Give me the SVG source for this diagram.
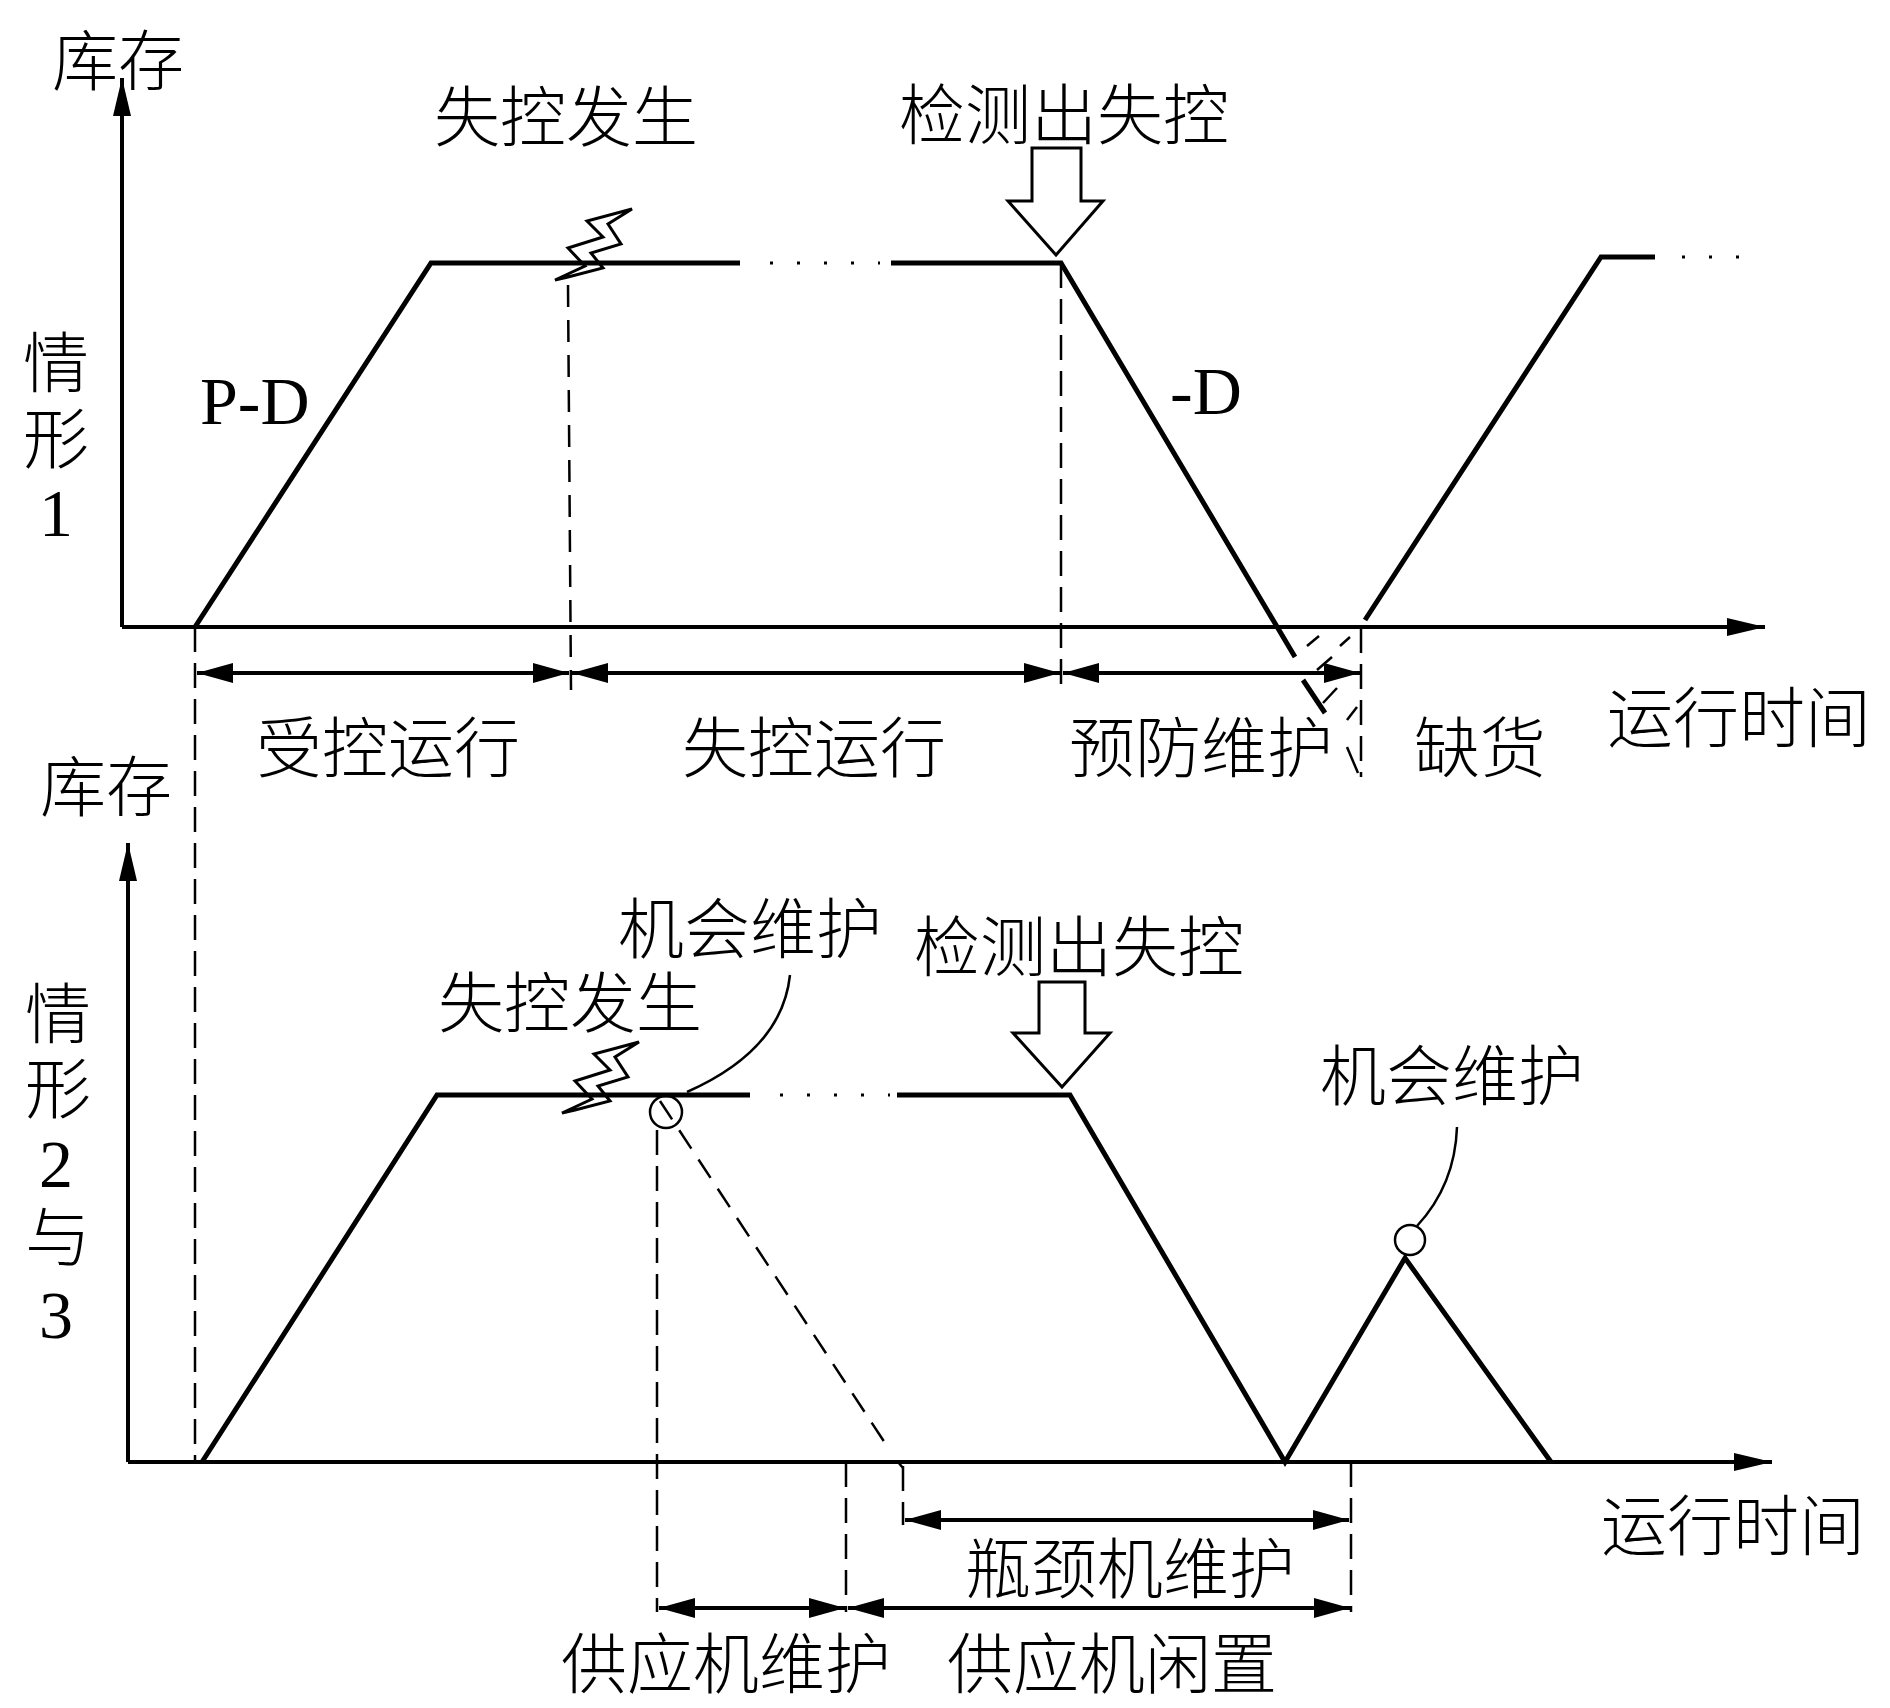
<svg xmlns="http://www.w3.org/2000/svg" width="1890" height="1708" viewBox="0 0 1890 1708">
<defs>
<style>
.t{font-family:"Liberation Serif","Noto Sans CJK SC",serif;font-size:66px;font-weight:300;fill:#000;text-anchor:middle}
.n{font-family:"Liberation Serif",serif;font-size:68px;fill:#000}
.ax{stroke:#000;stroke-width:4;fill:none}
.cv{stroke:#000;stroke-width:5;fill:none;stroke-linejoin:miter}
.dot{stroke:#000;stroke-width:3;fill:none;stroke-dasharray:3 24}
.ds{stroke:#000;stroke-width:2.5;fill:none;stroke-dasharray:25 11}
.dim{stroke:#000;stroke-width:4;fill:none}
.thin{stroke:#000;stroke-width:2.5;fill:none}
.bolt{stroke:#000;stroke-width:3;fill:none;stroke-linejoin:miter}
.hol{stroke:#000;stroke-width:3;fill:#fff}
</style>
<marker id="ah" viewBox="0 0 36 20" refX="36" refY="10" markerWidth="36" markerHeight="20" markerUnits="userSpaceOnUse" orient="auto-start-reverse"><path d="M0,0 L36,10 L0,20 Z" fill="#000"/></marker>
<marker id="axh" viewBox="0 0 38 18" refX="38" refY="9" markerWidth="38" markerHeight="18" markerUnits="userSpaceOnUse" orient="auto"><path d="M0,0 L38,9 L0,18 Z" fill="#000"/></marker>
<polygon id="boltshape" class="bolt" points="632,209 587,221 603,237 568,248 585,266 555,280 568,277 603,268 591,253 621,244 608,224"/>
</defs>

<g id="panel1">
  <g id="axes1">
    <line class="ax" x1="122" y1="627" x2="122" y2="78" marker-end="url(#axh)"/>
    <line class="ax" x1="122" y1="627" x2="1765" y2="627" marker-end="url(#axh)"/>
    <text class="t" x="118" y="85">库存</text>
    <text class="t" x="566" y="141">失控发生</text>
    <text class="t" x="1064" y="139">检测出失控</text>
    <text class="t" x="56" y="387">情</text>
    <text class="t" x="56" y="463">形</text>
    <text class="n" x="56" y="536" text-anchor="middle">1</text>
    <text class="t" x="1739" y="742">运行时间</text>
  </g>
  <g id="curve1">
    <polyline class="cv" points="195,627 431,263 740,263"/>
    <line class="dot" x1="770" y1="263" x2="880" y2="263"/>
    <polyline class="cv" points="891,263 1061,263 1295,657"/>
    <polyline class="cv" points="1365,620 1601,257 1655,257"/>
    <line class="dot" x1="1682" y1="257" x2="1745" y2="257"/>
    <text class="n" x="200" y="424">P-D</text>
    <text class="n" x="1170" y="414">-D</text>
  </g>
  <g id="event1">
    <use href="#boltshape"/>
    <path class="hol" d="M1032,148 H1081 V201 H1103 L1056,255 L1008,201 H1032 Z"/>
  </g>
  <g id="shortage1">
    <line class="thin" x1="1307" y1="646" x2="1319" y2="636"/>
    <line class="thin" x1="1340" y1="646" x2="1350" y2="637"/>
    <line class="thin" x1="1317" y1="670" x2="1332" y2="657"/>
    <line class="thin" x1="1323" y1="703" x2="1337" y2="688"/>
    <line class="thin" x1="1347" y1="720" x2="1357" y2="707"/>
    <line class="cv" x1="1303" y1="680" x2="1325" y2="713"/>
    <line class="thin" x1="1347" y1="747" x2="1358" y2="773"/>
  </g>
  <g id="dims1">
    <line class="ds" x1="195" y1="627" x2="195" y2="1462"/>
    <line class="ds" x1="568" y1="285" x2="571" y2="690" style="stroke-dasharray:22 13"/>
    <line class="ds" x1="1061" y1="263" x2="1061" y2="690"/>
    <line class="ds" x1="1361" y1="628" x2="1361" y2="777"/>
    <line class="dim" x1="197" y1="673" x2="569" y2="673" marker-start="url(#ah)" marker-end="url(#ah)"/>
    <line class="dim" x1="572" y1="673" x2="1060" y2="673" marker-start="url(#ah)" marker-end="url(#ah)"/>
    <line class="dim" x1="1063" y1="673" x2="1360" y2="673" marker-start="url(#ah)" marker-end="url(#ah)"/>
    <text class="t" x="388" y="772">受控运行</text>
    <text class="t" x="814" y="772">失控运行</text>
    <text class="t" x="1201" y="772">预防维护</text>
    <text class="t" x="1480" y="772">缺货</text>
  </g>
</g>

<g id="panel2">
  <g id="axes2">
    <line class="ax" x1="128" y1="1462" x2="128" y2="843" marker-end="url(#axh)"/>
    <line class="ax" x1="128" y1="1462" x2="1772" y2="1462" marker-end="url(#axh)"/>
    <text class="t" x="106" y="811">库存</text>
    <text class="t" x="58" y="1038">情</text>
    <text class="t" x="58" y="1113">形</text>
    <text class="n" x="56" y="1187" text-anchor="middle">2</text>
    <text class="t" x="58" y="1261">与</text>
    <text class="n" x="56" y="1338" text-anchor="middle">3</text>
    <text class="t" x="1733" y="1550">运行时间</text>
  </g>
  <g id="curve2">
    <polyline class="cv" points="202,1462 437,1095 750,1095"/>
    <line class="dot" x1="780" y1="1095" x2="890" y2="1095"/>
    <polyline class="cv" points="897,1095 1070,1095 1285,1462 1405,1258 1551,1462"/>
    <line class="ds" x1="660" y1="1101" x2="887" y2="1446" style="stroke-dasharray:22 13"/>
    <line class="thin" x1="898" y1="1462" x2="903" y2="1468"/>
  </g>
  <g id="event2">
    <use href="#boltshape" transform="translate(7,833)"/>
    <text class="t" x="570" y="1027">失控发生</text>
    <path class="hol" d="M1039,982 H1085 V1033 H1110 L1062,1087 L1013,1033 H1039 Z"/>
    <text class="t" x="1079" y="971">检测出失控</text>
  </g>
  <g id="opp1">
    <circle class="thin" cx="666" cy="1112" r="16" fill="none"/>
    <path class="thin" d="M687,1092 Q782,1050 790,975"/>
    <text class="t" x="750" y="953">机会维护</text>
  </g>
  <g id="opp2">
    <circle class="thin" cx="1410" cy="1240" r="15" fill="#fff"/>
    <path class="thin" d="M1417,1226 Q1455,1185 1457,1127"/>
    <text class="t" x="1452" y="1100">机会维护</text>
  </g>
  <g id="dims2">
    <line class="ds" x1="657" y1="1130" x2="657" y2="1612"/>
    <line class="ds" x1="846" y1="1462" x2="846" y2="1612"/>
    <line class="ds" x1="903" y1="1466" x2="903" y2="1525"/>
    <line class="ds" x1="1351" y1="1462" x2="1351" y2="1612"/>
    <line class="dim" x1="905" y1="1520" x2="1349" y2="1520" marker-start="url(#ah)" marker-end="url(#ah)"/>
    <line class="dim" x1="659" y1="1608" x2="845" y2="1608" marker-start="url(#ah)" marker-end="url(#ah)"/>
    <line class="dim" x1="848" y1="1608" x2="1350" y2="1608" marker-start="url(#ah)" marker-end="url(#ah)"/>
    <text class="t" x="1130" y="1593">瓶颈机维护</text>
    <text class="t" x="726" y="1688">供应机维护</text>
    <text class="t" x="1112" y="1688">供应机闲置</text>
  </g>
</g>
</svg>
